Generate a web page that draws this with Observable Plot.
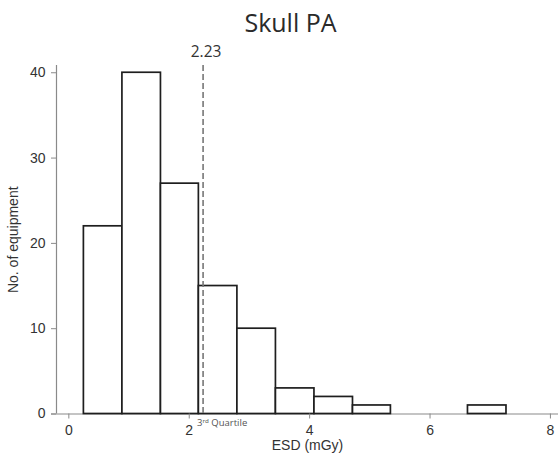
<!DOCTYPE html>
<html>
<head>
<meta charset="utf-8">
<script src="https://cdn.jsdelivr.net/npm/d3@7"></script>
<script src="https://cdn.jsdelivr.net/npm/@observablehq/plot@0.6"></script>
<style>
  html, body { margin: 0; padding: 0; background: #fff; }
  #chart svg { display: block; }
</style>
</head>
<body>
<div id="chart"></div>
<script>
// Histogram of ESD (mGy) for Skull PA
const binLo  = [0.25, 0.89, 1.53, 2.16, 2.80, 3.44, 4.08, 4.72, 5.35, 5.99, 6.63];
const binHi  = [0.89, 1.53, 2.16, 2.80, 3.44, 4.08, 4.72, 5.35, 5.99, 6.63, 7.27];
const counts = [22, 40, 27, 15, 10, 3, 2, 1, 0, 0, 1];
const quartile3 = 2.23;
const xTicks = [0, 2, 4, 6, 8];
const yTicks = [0, 10, 20, 30, 40];
const titleText = "Skull PA";
const xLabel = "ESD (mGy)";
const yLabel = "No. of equipment";
const quartileLabel = "3\u02B3\u1D48 Quartile";

const bins = binLo.map((lo, i) => ({lo, hi: binHi[i], n: counts[i]})).filter(d => d.n > 0);
const xDomain = [-0.205, 8.134];
const yDomain = [0, 40.85];

const sans = "'Liberation Sans', Arial, sans-serif";
const ui = "'Open Sans', 'Noto Sans', sans-serif";

const chart = Plot.plot({
  width: 558,
  height: 455,
  marginLeft: 56,
  marginRight: 0,
  marginTop: 65,
  marginBottom: 41.5,
  style: {fontFamily: sans, fontSize: "14px", color: "#333", background: "#fff"},
  x: {domain: xDomain},
  y: {domain: yDomain},
  marks: [
    Plot.ruleX([xDomain[0]], {stroke: "#8a8a8a", strokeWidth: 1.2}),
    Plot.ruleY([0], {stroke: "#8a8a8a", strokeWidth: 1.2, insetLeft: -5}),
    Plot.rectY(bins, {x1: "lo", x2: "hi", y1: 0, y2: "n", fill: "#fff", stroke: "#1e1e1e", strokeWidth: 1.7}),
    Plot.ruleX([quartile3], {stroke: "#777", strokeWidth: 1.6, strokeDasharray: "6,3"}),
    Plot.axisY({ticks: yTicks, tickSize: 5, tickPadding: 6, label: null, stroke: "#8a8a8a", fill: "#333", fontSize: 14}),
    Plot.axisX({ticks: xTicks, tickSize: 5, tickPadding: 6, label: null, stroke: "#8a8a8a", fill: "#333", fontSize: 14}),
    Plot.text([quartile3], {x: d => d, frameAnchor: "top", lineAnchor: "bottom", dy: -9, dx: 3,
      text: d => d.toFixed(2), fontFamily: ui, fontSize: 15.5, fill: "#333"}),
    Plot.text([quartile3], {x: d => d, y: 0, textAnchor: "start", lineAnchor: "bottom", dx: -6, dy: 12,
      text: () => quartileLabel, fontFamily: ui, fontSize: 9.5, fill: "#555"}),
    Plot.text([titleText], {frameAnchor: "top", lineAnchor: "bottom", dy: -34, dx: -17,
      text: d => d, fontFamily: ui, fontSize: 25, fill: "#2a2a2a"}),
    Plot.text([xLabel], {frameAnchor: "bottom", textAnchor: "middle", lineAnchor: "middle", dy: 31.5,
      text: d => d, fontFamily: sans, fontSize: 14, fill: "#333"}),
    Plot.text([yLabel], {frameAnchor: "left", textAnchor: "middle", rotate: -90, dx: -43,
      text: d => d, fontFamily: sans, fontSize: 14, fill: "#333"})
  ]
});
document.getElementById("chart").appendChild(chart);
</script>
</body>
</html>
